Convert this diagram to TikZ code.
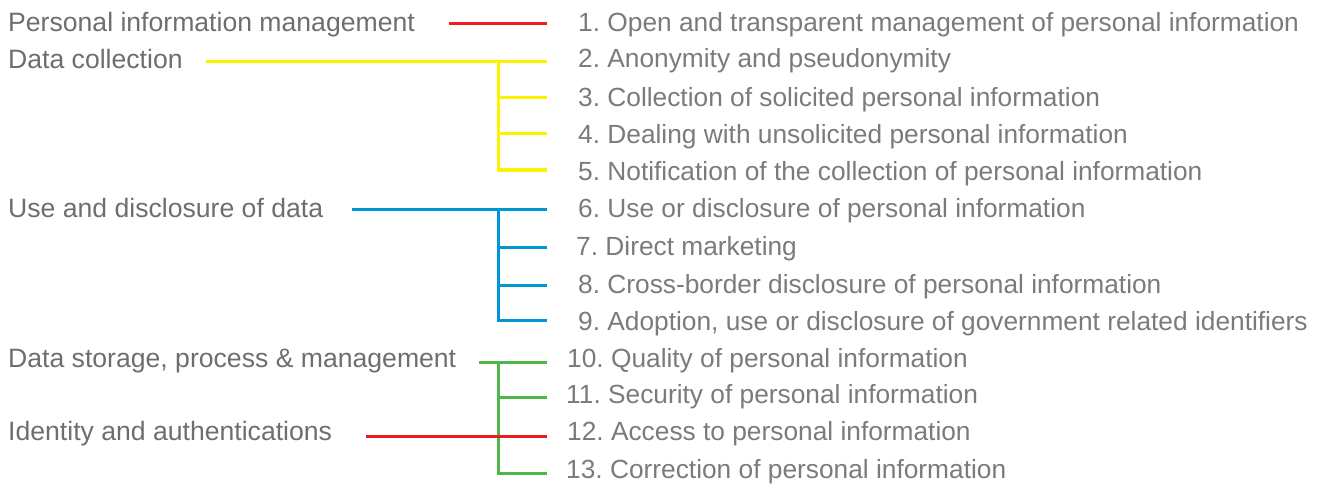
\documentclass[tikz,border=0pt]{standalone}
\usepackage{fontspec}
\setmainfont{Liberation Sans}
\frenchspacing
\definecolor{lefttext}{HTML}{6D6E71}
\definecolor{righttext}{HTML}{7A7B7E}
\definecolor{cred}{HTML}{ED1C24}
\definecolor{cyellow}{HTML}{FFF200}
\definecolor{cblue}{HTML}{0096D6}
\definecolor{cgreen}{HTML}{4DB848}
\begin{document}
\begin{tikzpicture}[x=1pt,y=-1pt,
  cat/.style={anchor=base west,inner sep=0pt,text=lefttext,font=\fontsize{26.6}{31}\selectfont},
  item/.style={anchor=base west,inner sep=0pt,text=righttext,font=\fontsize{26.3}{31}\selectfont},
  conn/.style={line width=3pt},
]
\useasboundingbox (0,0) rectangle (1320,484);
% left categories
\node[cat] (L1) at (8,32) {Personal information management};
\node[cat] (L2) at (8,69) {Data collection};
\node[cat] (L3) at (8,217) {Use and disclosure of data};
\node[cat] (L4) at (8,367) {Data storage, process \& management};
\node[cat] (L5) at (8,440) {Identity and authentications};
% right items
\node[item] (R1) at (578,32) {1. Open and transparent management of personal information};
\node[item] (R2) at (578,68) {2. Anonymity and pseudonymity};
\node[item] (R3) at (578,107) {3. Collection of solicited personal information};
\node[item] (R4) at (578,143) {4. Dealing with unsolicited personal information};
\node[item] (R5) at (578,180) {5. Notification of the collection of personal information};
\node[item] (R6) at (578,217) {6. Use or disclosure of personal information};
\node[item] (R7) at (576,255) {7. Direct marketing};
\node[item] (R8) at (578,293) {8. Cross-border disclosure of personal information};
\node[item] (R9) at (578,330) {9. Adoption, use or disclosure of government related identifiers};
\node[item] (R10) at (567,367) {10. Quality of personal information};
\node[item] (R11) at (566,403) {11. Security of personal information};
\node[item] (R12) at (567,440) {12. Access to personal information};
\node[item] (R13) at (566,478) {13. Correction of personal information};
% connector coordinates
\coordinate (s1) at (449,24);
\coordinate (s2) at (206,62);
\coordinate (s3) at (352,209);
\coordinate (s4) at (479,362);
\coordinate (s5) at (366,436);
\coordinate (e1) at (547,24);
\coordinate (e2) at (547,62);
\coordinate (e3) at (547,98);
\coordinate (e4) at (547,134);
\coordinate (e5) at (547,170);
\coordinate (e6) at (547,209);
\coordinate (e7) at (547,247);
\coordinate (e8) at (547,285);
\coordinate (e9) at (547,320);
\coordinate (e10) at (547,362);
\coordinate (e11) at (547,397);
\coordinate (e12) at (547,436);
\coordinate (e13) at (547,473);
\coordinate (y0) at (498,62);
\coordinate (b0) at (498,209);
\coordinate (g0) at (498,362);
% red
\draw[conn,cred] (s1) -- (e1);
% yellow
\draw[conn,cyellow] (s2) -- (e2);
\draw[conn,cyellow] (y0) |- (e5);
\draw[conn,cyellow] (y0 |- e3) -- (e3);
\draw[conn,cyellow] (y0 |- e4) -- (e4);
% blue
\draw[conn,cblue] (s3) -- (e6);
\draw[conn,cblue] (b0) |- (e9);
\draw[conn,cblue] (b0 |- e7) -- (e7);
\draw[conn,cblue] (b0 |- e8) -- (e8);
% green
\draw[conn,cgreen] (s4) -- (e10);
\draw[conn,cgreen] (g0) |- (e13);
\draw[conn,cgreen] (g0 |- e11) -- (e11);
% red second
\draw[conn,cred] (s5) -- (e12);
\end{tikzpicture}
\end{document}
